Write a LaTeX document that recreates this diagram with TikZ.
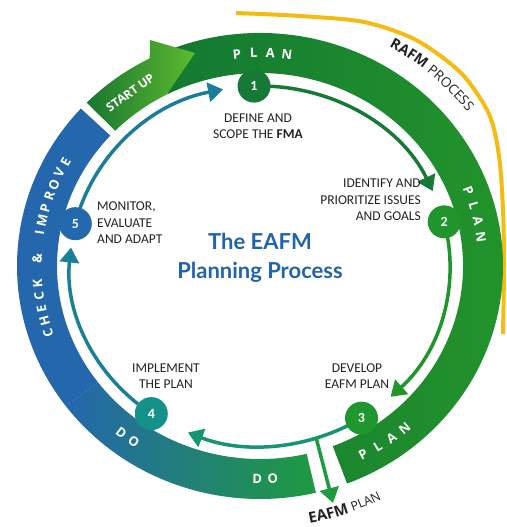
\documentclass[tikz,border=0pt]{standalone}
\usepackage{fontspec}
\setmainfont{Carlito}
\newfontfamily\bandfont{Open Sans}
\newfontfamily\titlefont{Lato}
\usetikzlibrary{arrows.meta,decorations.text,backgrounds}

\definecolor{planDark}{HTML}{127832}
\definecolor{planLight}{HTML}{23942B}
\definecolor{startDark}{HTML}{1A7631}
\definecolor{startLight}{HTML}{5DBA2E}
\definecolor{checkBlue}{HTML}{2467AD}
\definecolor{doTeal}{HTML}{12918A}
\definecolor{doGreen}{HTML}{1E9A40}
\definecolor{rafmYellow}{HTML}{F6BB12}
\definecolor{titleBlue}{HTML}{2163AD}
\definecolor{textGray}{HTML}{222222}
\definecolor{stepOne}{HTML}{167A36}
\definecolor{stepTwo}{HTML}{1F952C}
\definecolor{stepThree}{HTML}{1F962E}
\definecolor{stepFour}{HTML}{14928A}
\definecolor{stepFive}{HTML}{2468AE}

\tikzset{
  stepdot/.style={circle,minimum size=33pt,inner sep=0pt,text=white,
    font=\bfseries\fontsize{14}{14}\selectfont},
  steptext/.style={align=center,text=textGray,inner sep=0pt,
    font=\fontsize{13.5}{16.5}\selectfont},
  flow/.style={line width=3.5pt,-{Triangle[length=15pt,width=19pt]}},
  bandlbl/.style={text=white,inner sep=0pt,
    font=\bandfont\bfseries\fontsize{13}{13}\selectfont}
}

% one piece of the outer ring, between two angles
\newcommand{\ringpart}[2]{(#1:243 and 233)
  arc[start angle=#1,end angle=#2,x radius=243,y radius=233]
  -- (#2:203 and 193)
  arc[start angle=#2,end angle=#1,x radius=203,y radius=193] -- cycle}

% spaced capitals set along the ring: centre, step, middle index, turn, letters
\newcommand{\bandword}[5]{%
  \foreach \ch [count=\i] in {#5}
    \node[bandlbl,rotate={#1+#2*(#3-\i)+#4}] at ({#1+#2*(#3-\i)}:223 and 213) {\ch};}

\begin{document}
\begin{tikzpicture}[x=1pt,y=1pt]
  \useasboundingbox (-260,-261) rectangle (246,266);
  \clip (-260,-261) rectangle (246,266);

  % RAFM arc
  \draw[rafmYellow,line width=4pt] plot[smooth] coordinates
    {(-24,253) (40,250) (104,244) (156,226) (201,193) (229,152) (239,110)
     (243,56) (244,0) (243,-68)};
  \path[decorate,decoration={text along path,text align=center,text color=textGray,
    text={|\bandfont\fontsize{14.5}{14.5}\selectfont\bfseries|RAFM |\bandfont\fontsize{13.5}{13.5}\selectfont\mdseries|PROCESS}}]
    (68:262 and 252) arc[start angle=68,end angle=30,x radius=262,y radius=252];

  % the ring
  \fill[checkBlue] \ringpart{137.5}{217};
  \shade[left color=planDark,right color=planLight] \ringpart{117}{-69};
  \shade[left color=checkBlue,middle color=doTeal,right color=doGreen] \ringpart{-143}{-76.7};
  \shade[left color=startDark,right color=startLight]
    (135.5:243 and 233) arc[start angle=135.5,end angle=117,x radius=243,y radius=233]
    -- (-110,226) -- (-65,213) -- (-93,172)
    -- (117:203 and 193) arc[start angle=117,end angle=135.5,x radius=203,y radius=193] -- cycle;

  \node[bandlbl,font=\bandfont\bfseries\fontsize{12}{12}\selectfont,rotate=35]
    (start) at (125.6:223 and 213) {START UP};
  \bandword{89.5}{4.3}{2.5}{-90}{P,L,A,N}
  \bandword{14.3}{4.3}{2.5}{-90}{P,L,A,N}
  \bandword{-56}{-4.3}{2.5}{90}{P,L,A,N}
  \bandword{-88.7}{-4}{1.5}{90}{D,O}
  \bandword{-126.5}{-4}{1.5}{90}{D,O}
  \bandword{174.5}{3.4}{8}{-90}{C,H,E,C,K,{},\&,{},I,M,P,R,O,V,E}

  % steps
  \node[stepdot,fill=stepOne] (n1) at (91.8:190 and 180) {1};
  \node[stepdot,fill=stepTwo] (n2) at (14.2:190 and 180) {2};
  \node[stepdot,fill=stepThree] (n3) at (-57.7:190 and 180) {3};
  \node[stepdot,fill=stepFour] (n4) at (-124.9:190 and 180) {4};
  \node[stepdot,fill=stepFive] (n5) at (166.4:190 and 180) {5};
  \coordinate (fork) at (-72.8:190 and 180);
  \coordinate (plantip) at (73,-237);

  \begin{scope}[on background layer]
    \draw[flow,color=stepOne] (n1) arc[start angle=91.8,end angle=24.6,x radius=190,y radius=180];
    \draw[flow,color=stepTwo] (n2) arc[start angle=14.2,end angle=-46.6,x radius=190,y radius=180];
    \draw[flow,color=doTeal!70!doGreen] (n3) arc[start angle=-57.7,end angle=-112.3,x radius=190,y radius=180];
    \draw[flow,color=doTeal!60!checkBlue] (n4) arc[start angle=-124.9,end angle=-185.9,x radius=190,y radius=180];
    \draw[flow,color=checkBlue!50!doTeal] (n5) arc[start angle=166.4,end angle=101.2,x radius=190,y radius=180];
    \draw[flow,color=doGreen] (fork) -- (plantip);
  \end{scope}

  \path[decorate,decoration={text along path,text align=center,text color=textGray,
    text={|\bandfont\fontsize{15}{15}\selectfont\bfseries|EAFM |\bandfont\fontsize{12.5}{12.5}\selectfont\mdseries|PLAN}}]
    (-94:266 and 262) arc[start angle=-94,end angle=-48,x radius=266,y radius=262];

  % labels
  \node[steptext] (t1) at (-2,140) {DEFINE AND\\SCOPE THE \textbf{FMA}};
  \node[steptext,align=right,anchor=east] (t2) at (161,66) {IDENTIFY AND\\PRIORITIZE ISSUES\\AND GOALS};
  \node[steptext] (t3) at (97,-110) {DEVELOP\\EAFM PLAN};
  \node[steptext] (t4) at (-94,-110) {IMPLEMENT\\THE PLAN};
  \node[steptext,align=left,anchor=west] (t5) at (-163,43) {MONITOR,\\EVALUATE\\AND ADAPT};
  \node[align=center,text=titleBlue,font=\titlefont\bfseries\fontsize{22}{29}\selectfont]
    (title) at (0,8) {The EAFM\\Planning Process};
\end{tikzpicture}
\end{document}
